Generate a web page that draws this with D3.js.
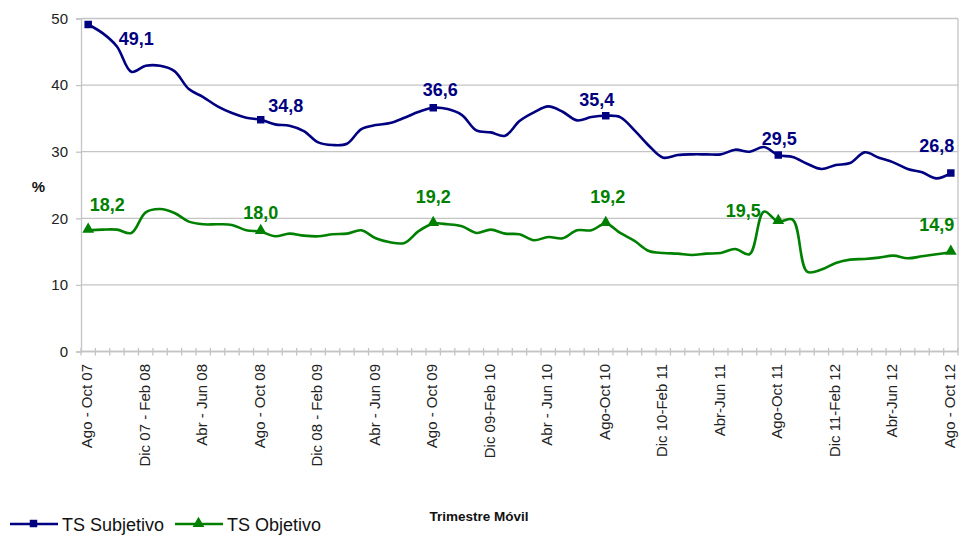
<!DOCTYPE html>
<html>
<head>
<meta charset="utf-8">
<script src="https://cdn.jsdelivr.net/npm/d3@7"></script>
<style>
  body { margin: 0; background: #fff; }
  svg { font-family: "Liberation Sans", Arial, sans-serif; }
</style>
</head>
<body>
<script>
// trimestres moviles (labels shown every 4th, written as in the source)
var categories = [
  "Ago - Oct 07", "Sep-Nov 07", "Oct-Dic 07", "Nov 07-Ene 08",
  "Dic 07 - Feb 08", "Ene-Mar 08", "Feb-Abr 08", "Mar-May 08",
  "Abr - Jun 08", "May-Jul 08", "Jun-Ago 08", "Jul-Sep 08",
  "Ago - Oct 08", "Sep-Nov 08", "Oct-Dic 08", "Nov 08-Ene 09",
  "Dic 08 - Feb 09", "Ene-Mar 09", "Feb-Abr 09", "Mar-May 09",
  "Abr - Jun 09", "May-Jul 09", "Jun-Ago 09", "Jul-Sep 09",
  "Ago - Oct 09", "Sep-Nov 09", "Oct-Dic 09", "Nov 09-Ene 10",
  "Dic 09-Feb 10", "Ene-Mar 10", "Feb-Abr 10", "Mar-May 10",
  "Abr - Jun 10", "May-Jul 10", "Jun-Ago 10", "Jul-Sep 10",
  "Ago-Oct 10", "Sep-Nov 10", "Oct-Dic 10", "Nov 10-Ene 11",
  "Dic 10-Feb 11", "Ene-Mar 11", "Feb-Abr 11", "Mar-May 11",
  "Abr-Jun 11", "May-Jul 11", "Jun-Ago 11", "Jul-Sep 11",
  "Ago-Oct 11", "Sep-Nov 11", "Oct-Dic 11", "Nov 11-Ene 12",
  "Dic 11-Feb 12", "Ene-Mar 12", "Feb-Abr 12", "Mar-May 12",
  "Abr-Jun 12", "May-Jul 12", "Jun-Ago 12", "Jul-Sep 12",
  "Ago - Oct 12"
];

var tsSubjetivo = [
  49.1, 47.8, 45.8, 42.0, 42.9, 42.9, 42.1, 39.4, 38.2, 36.8, 35.8, 35.1,
  34.8, 34.1, 33.9, 33.1, 31.4, 31.0, 31.2, 33.4, 34.0, 34.3, 35.1, 36.0,
  36.6, 36.4, 35.5, 33.2, 32.9, 32.4, 34.6, 35.9, 36.8, 36.0, 34.7, 35.2,
  35.4, 35.2, 33.2, 30.9, 29.1, 29.5, 29.6, 29.6, 29.6, 30.3, 30.0, 30.7,
  29.5, 29.2, 28.2, 27.4, 28.0, 28.3, 29.9, 29.1, 28.4, 27.4, 26.9, 26.0,
  26.8
];

var tsObjetivo = [
  18.2, 18.3, 18.3, 17.8, 20.9, 21.4, 20.8, 19.5, 19.1, 19.1, 19.0, 18.2,
  18.0, 17.3, 17.7, 17.4, 17.3, 17.6, 17.7, 18.2, 17.0, 16.4, 16.3, 18.1,
  19.2, 19.1, 18.8, 17.8, 18.3, 17.7, 17.6, 16.7, 17.2, 17.0, 18.2, 18.2,
  19.2, 17.8, 16.6, 15.1, 14.8, 14.7, 14.5, 14.7, 14.8, 15.4, 14.6, 21.0,
  19.5, 19.8, 12.0, 12.3, 13.3, 13.8, 13.9, 14.1, 14.4, 14.0, 14.3, 14.6,
  14.9
];

var markedPoints = [0, 12, 24, 36, 48, 60];
var yTicks = [0, 10, 20, 30, 40, 50];

// label nudges (px) for each marked point, same order as markedPoints
var subLabelOffsets = [[48, 21], [25, -8], [7, -12], [-9, -10], [1, -10], [-14, -21]];
var objLabelOffsets = [[19, -19], [0, -13], [0, -21], [2, -21], [-35, -5], [-14, -21]];

var width = 963, height = 537;
var plotLeft = 81, plotRight = 958, plotTop = 18.5, plotBottom = 351.5;
var blue = "#000080", green = "#008000", grid = "#c4c4c4";

var svg = d3.select("body").append("svg")
  .attr("width", width)
  .attr("height", height);

var x = d3.scaleBand().domain(categories).range([plotLeft, plotRight]).padding(0);
var y = d3.scaleLinear().domain([0, 50]).range([plotBottom, plotTop]);
var cx = function (i) { return x(categories[i]) + x.bandwidth() / 2; };

// gridlines
svg.append("g").selectAll("line")
  .data(yTicks)
  .enter().append("line")
  .attr("x1", plotLeft).attr("x2", plotRight)
  .attr("y1", function (d) { return y(d); })
  .attr("y2", function (d) { return y(d); })
  .attr("stroke", grid)
  .attr("stroke-width", 1.3);

// right border
svg.append("line")
  .attr("x1", plotRight).attr("x2", plotRight)
  .attr("y1", plotTop).attr("y2", plotBottom)
  .attr("stroke", grid).attr("stroke-width", 1.3);

// y axis
var yAxis = svg.append("g")
  .attr("transform", "translate(" + plotLeft + ",0)")
  .call(d3.axisLeft(y).tickValues(yTicks).tickSize(5).tickPadding(8));
yAxis.select(".domain").attr("stroke", grid).attr("stroke-width", 1.3);
yAxis.selectAll(".tick line").attr("stroke", grid).attr("stroke-width", 1.3);
yAxis.selectAll(".tick text")
  .attr("font-size", 15)
  .attr("fill", "#222")
  .style("font-family", "Liberation Sans, Arial, sans-serif");

// x axis: ticks between categories, crossing the axis line
var xAxis = svg.append("g");
xAxis.append("line")
  .attr("x1", plotLeft).attr("x2", plotRight)
  .attr("y1", plotBottom).attr("y2", plotBottom)
  .attr("stroke", grid).attr("stroke-width", 1.3);
xAxis.selectAll(".xt")
  .data(categories.concat([null]))
  .enter().append("line")
  .attr("class", "xt")
  .attr("x1", function (d, i) { return plotLeft + i * x.bandwidth(); })
  .attr("x2", function (d, i) { return plotLeft + i * x.bandwidth(); })
  .attr("y1", plotBottom - 3.5).attr("y2", plotBottom + 4)
  .attr("stroke", grid).attr("stroke-width", 1.3);
xAxis.selectAll(".xl")
  .data(categories.filter(function (d, i) { return i % 4 === 0; }))
  .enter().append("text")
  .attr("class", "xl")
  .attr("transform", function (d) {
    return "translate(" + (x(d) + x.bandwidth() / 2) + "," + (plotBottom + 12.5) + ") rotate(-90)";
  })
  .attr("dy", "0.27em")
  .attr("text-anchor", "end")
  .attr("font-size", 15)
  .attr("fill", "#222")
  .text(function (d) { return d; });

// series
var line = d3.line()
  .x(function (d, i) { return cx(i); })
  .y(function (d) { return y(d); })
  .curve(d3.curveCatmullRom.alpha(0.5));

svg.append("path")
  .datum(tsSubjetivo)
  .attr("d", line)
  .attr("fill", "none")
  .attr("stroke", blue)
  .attr("stroke-width", 2.6);

svg.append("path")
  .datum(tsObjetivo)
  .attr("d", line)
  .attr("fill", "none")
  .attr("stroke", green)
  .attr("stroke-width", 2.6);

var square = d3.symbol().type(d3.symbolSquare).size(56);
var triangle = d3.symbol().type(d3.symbolTriangle).size(60);

svg.append("g").selectAll("path")
  .data(markedPoints)
  .enter().append("path")
  .attr("d", square)
  .attr("transform", function (i) { return "translate(" + cx(i) + "," + y(tsSubjetivo[i]) + ")"; })
  .attr("fill", blue);

svg.append("g").selectAll("path")
  .data(markedPoints)
  .enter().append("path")
  .attr("d", triangle)
  .attr("transform", function (i) { return "translate(" + cx(i) + "," + (y(tsObjetivo[i]) - 1) + ")"; })
  .attr("fill", green);

var fmt = function (v) { return d3.format(".1f")(v).replace(".", ","); };

svg.append("g").selectAll("text")
  .data(markedPoints)
  .enter().append("text")
  .attr("x", function (i, k) { return cx(i) + subLabelOffsets[k][0]; })
  .attr("y", function (i, k) { return y(tsSubjetivo[i]) + subLabelOffsets[k][1]; })
  .attr("text-anchor", "middle")
  .attr("font-size", 18)
  .attr("font-weight", "bold")
  .attr("fill", blue)
  .text(function (i) { return fmt(tsSubjetivo[i]); });

svg.append("g").selectAll("text")
  .data(markedPoints)
  .enter().append("text")
  .attr("x", function (i, k) { return cx(i) + objLabelOffsets[k][0]; })
  .attr("y", function (i, k) { return y(tsObjetivo[i]) + objLabelOffsets[k][1]; })
  .attr("text-anchor", "middle")
  .attr("font-size", 18)
  .attr("font-weight", "bold")
  .attr("fill", green)
  .text(function (i) { return fmt(tsObjetivo[i]); });

// axis titles
svg.append("text")
  .attr("x", 38.5).attr("y", 192)
  .attr("text-anchor", "middle")
  .attr("font-size", 15)
  .attr("font-weight", "bold")
  .attr("fill", "#111")
  .text("%");

svg.append("text")
  .attr("x", 479).attr("y", 521)
  .attr("text-anchor", "middle")
  .attr("font-size", 13.5)
  .attr("font-weight", "bold")
  .attr("fill", "#111")
  .text("Trimestre Móvil");

// legend
var legend = [
  { name: "TS Subjetivo", color: blue, symbol: square, x: 10 },
  { name: "TS Objetivo", color: green, symbol: triangle, x: 175 }
];
var lg = svg.append("g").selectAll("g")
  .data(legend)
  .enter().append("g")
  .attr("transform", function (d) { return "translate(" + d.x + ",524)"; });
lg.append("line")
  .attr("x1", 0).attr("x2", 48)
  .attr("stroke", function (d) { return d.color; })
  .attr("stroke-width", 2.6);
lg.append("path")
  .attr("d", function (d) { return d.symbol(); })
  .attr("transform", "translate(23.5,-0.5)")
  .attr("fill", function (d) { return d.color; });
lg.append("text")
  .attr("x", 52).attr("y", 6.8)
  .attr("font-size", 18)
  .attr("fill", "#111")
  .text(function (d) { return d.name; });
</script>
</body>
</html>
